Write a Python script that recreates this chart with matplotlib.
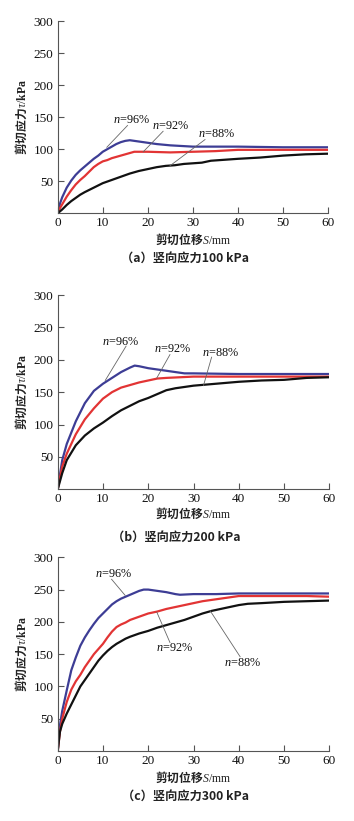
import matplotlib
matplotlib.use("Agg")
import matplotlib.pyplot as plt

plt.rcParams['mathtext.fontset'] = 'custom'
plt.rcParams['mathtext.rm'] = 'Liberation Serif'
plt.rcParams['mathtext.it'] = 'Liberation Serif:italic'
plt.rcParams['mathtext.bf'] = 'Liberation Serif:bold'

# ---------------- data ----------------
# panel (a) vertical stress 100 kPa
a_s96 = [0, 0.5, 1, 2, 3, 4, 5, 6, 7, 8, 9, 10, 11, 12, 13, 14, 15, 16, 17, 18, 20, 22, 25, 30, 35, 40, 50, 60]
a_t96 = [0, 15, 25, 40, 51, 60, 67, 73, 79, 85, 90, 96, 100, 104, 108, 111, 113, 114, 113, 112, 110, 108, 106, 104, 104, 104, 103, 103]
a_s92 = [0, 0.5, 1, 2, 3, 4, 5, 6, 7, 8, 9, 10, 11, 12, 13, 14, 15, 16, 17, 18, 20, 25, 30, 35, 40, 45, 50, 60]
a_t92 = [0, 8, 14, 26, 36, 45, 52, 58, 65, 72, 77, 81, 83, 86, 88, 90, 92, 94, 96, 96, 96, 95, 96, 97, 99, 99, 99, 99]
a_s88 = [0, 1, 2, 3, 4, 5, 6, 8, 10, 12, 14, 16, 18, 20, 22, 24, 26, 28, 30, 32, 34, 36, 38, 40, 45, 50, 55, 60]
a_t88 = [0, 6, 13, 19, 24, 29, 33, 40, 47, 52, 57, 62, 66, 69, 72, 74, 75, 77, 78, 79, 82, 83, 84, 85, 87, 90, 92, 93]

# panel (b) vertical stress 200 kPa
b_s96 = [0, 1, 2, 4, 6, 8, 10, 12, 14, 16, 17, 18, 20, 22, 25, 28, 30, 40, 50, 60]
b_t96 = [0, 45, 70, 105, 133, 152, 163, 172, 181, 188, 191, 190, 187, 185, 182, 179, 179, 178, 178, 178]
b_s92 = [0, 1, 2, 4, 6, 8, 10, 12, 14, 16, 18, 20, 22, 24, 30, 40, 50, 60]
b_t92 = [0, 35, 55, 85, 108, 125, 140, 150, 157, 161, 165, 168, 171, 172, 174, 174, 174, 174]
b_s88 = [0, 1, 2, 4, 6, 8, 10, 12, 14, 16, 18, 20, 22, 24, 26, 28, 30, 35, 40, 45, 50, 55, 60]
b_t88 = [0, 25, 45, 68, 83, 94, 103, 113, 122, 129, 136, 141, 147, 153, 156, 158, 160, 163, 166, 168, 169, 172, 173]

# panel (c) vertical stress 300 kPa
c_s96 = [0, 0.5, 1, 2, 3, 4, 5, 6, 7, 8, 9, 10, 11, 12, 13, 14, 15, 16, 17, 18, 19, 20, 21, 22, 24, 26, 27, 30, 35, 40, 50, 60]
c_t96 = [0, 40, 62, 94, 125, 145, 163, 176, 187, 197, 206, 213, 220, 227, 232, 236, 239, 242, 245, 248, 250, 250, 249, 248, 246, 243, 242, 243, 243, 244, 244, 244]
c_s92 = [0, 0.5, 1, 2, 3, 4, 5, 6, 7, 8, 9, 10, 11, 12, 13, 14, 15, 16, 18, 20, 22, 24, 26, 28, 30, 32, 34, 36, 38, 40, 45, 50, 55, 60]
c_t92 = [0, 30, 50, 76, 95, 108, 118, 130, 140, 150, 158, 166, 176, 185, 192, 196, 199, 203, 208, 213, 216, 220, 223, 226, 229, 232, 234, 236, 238, 240, 240, 240, 240, 239]
c_s88 = [0, 0.5, 1, 2, 3, 4, 5, 6, 7, 8, 9, 10, 11, 12, 13, 14, 15, 16, 18, 20, 22, 24, 26, 28, 30, 32, 34, 36, 38, 40, 42, 45, 50, 55, 60]
c_t88 = [0, 30, 42, 58, 72, 86, 100, 110, 120, 130, 140, 148, 155, 161, 166, 170, 174, 177, 182, 186, 191, 195, 199, 203, 208, 213, 217, 220, 223, 226, 228, 229, 231, 232, 233]

labels = ['96%', '92%', '88%']
captions = ['（a）竖向应力100 kPa', '（b）竖向应力200 kPa', '（c）竖向应力300 kPa']
x_ticks = [0, 10, 20, 30, 40, 50, 60]
y_ticks = [50, 100, 150, 200, 250, 300]

# annotation: (text x, text y, line start x, y, line end x, y)
ann_a = [(16.4, 146, 15.5, 137, 10.9, 103), (25.0, 136, 23.4, 128, 19.0, 96), (35.3, 123, 32.7, 115, 24.9, 74)]
ann_b = [(13.8, 228, 15.1, 221, 10.5, 168), (25.4, 216, 24.8, 208, 21.9, 172), (35.9, 211, 34.0, 204, 32.2, 160)]
ann_c = [(12.4, 274, 11.9, 266, 14.9, 241), (25.9, 159, 24.8, 168, 21.9, 215), (40.9, 137, 40.3, 146, 33.7, 217)]

panels = [
    ((a_s96, a_t96), (a_s92, a_t92), (a_s88, a_t88), ann_a),
    ((b_s96, b_t96), (b_s92, b_t92), (b_s88, b_t88), ann_b),
    ((c_s96, c_t96), (c_s92, c_t92), (c_s88, c_t88), ann_c),
]

colors = ['#3d3d95', '#e23434', '#111111']

W, H = 354, 821
fig = plt.figure(figsize=(W / 100, H / 100), dpi=100)

# axes boxes in pixels: left, top, right, bottom
boxes = [(57.7, 21, 328, 213.3), (57.7, 295, 329.3, 489.3), (57.7, 557.3, 329.3, 751)]
xlabel_y = [239, 513, 777.7]
caption_y = [258, 537, 796.7]
caption_x = [185, 176, 185]

serif = 'Liberation Serif'
cjk = ['Noto Sans CJK SC', 'DejaVu Sans']

for i, (p96, p92, p88, ann) in enumerate(panels):
    l, t, r, b = boxes[i]
    ax = fig.add_axes([l / W, 1 - b / H, (r - l) / W, (b - t) / H])
    for (s, v), c in zip([p96, p92, p88], colors):
        ax.plot(s, v, color=c, lw=1.6, solid_capstyle='round')
    ax.set_xlim(0, 60)
    ax.set_ylim(0, 300)
    ax.set_xticks(x_ticks)
    ax.set_yticks(y_ticks)
    ax.spines['top'].set_visible(False)
    ax.spines['right'].set_visible(False)
    for sp in ['left', 'bottom']:
        ax.spines[sp].set_color('#555555')
        ax.spines[sp].set_linewidth(0.8)
    ax.tick_params(direction='in', length=4, width=0.8, color='#555555',
                   labelsize=9.5, labelcolor='#111111', pad=3)
    for lab in ax.get_xticklabels() + ax.get_yticklabels():
        lab.set_fontfamily(serif)
    for (tx, ty, x0, y0, x1, y1), lb in zip(ann, labels):
        ax.plot([x0, x1], [y0, y1], color='#666666', lw=0.6)
        ax.text(tx, ty, '$n$=' + lb, ha='center', va='center', fontsize=8.8,
                family=serif, color='#111111')
    ax.set_ylabel('剪切应力$\\tau/\\mathbf{kPa}$', family=cjk, fontsize=8.5,
                  fontweight='bold', color='#222222', labelpad=3)
    cx = (l + r) / 2
    fig.text(cx / W, 1 - xlabel_y[i] / H, '剪切位移$S/\\mathrm{mm}$', ha='center', va='center',
             family=cjk, fontsize=8.5, fontweight='bold', color='#222222')
    fig.text(caption_x[i] / W, 1 - caption_y[i] / H, captions[i], ha='center', va='center',
             family=cjk, fontsize=8.8, fontweight='bold', color='#222222')

fig.savefig('out.png', dpi=100, facecolor='white')
